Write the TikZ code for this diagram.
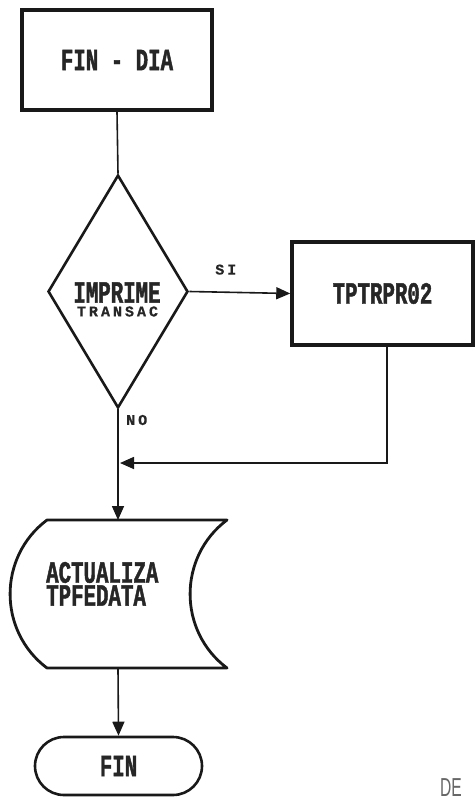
\documentclass[tikz,border=0pt]{standalone}
\usepackage{fontspec}
\usetikzlibrary{arrows.meta,shapes.geometric,shapes.misc}
\newfontfamily\dotbig[FakeStretch=0.67,FakeBold=1.4]{Liberation Mono}
\newfontfamily\dotsmall[LetterSpace=20,FakeBold=0.6]{Liberation Mono}
\newfontfamily\desans[FakeStretch=0.6]{Liberation Sans}
\newcommand{\bigtxt}{\dotbig\bfseries\fontsize{31}{24}\selectfont}
\newcommand{\smalltxt}{\dotsmall\bfseries\fontsize{15}{15}\selectfont}
\tikzset{
  ink/.style={draw=black!90},
  procbox/.style={ink, line width=3.5pt, rectangle, inner sep=0pt, font=\bigtxt, text=black!85},
  decbox/.style={ink, line width=2.6pt, diamond, inner sep=0pt, aspect=0.6},
  termbox/.style={ink, line width=2.6pt, rectangle, rounded corners=29pt, inner sep=0pt, font=\bigtxt, text=black!85},
  conn/.style={black!90, line width=1.6pt},
  arr/.style={conn, -{Triangle[length=14pt,width=12pt]}},
  biglbl/.style={font=\bigtxt, text=black!85, inner sep=0pt},
  smalllbl/.style={font=\smalltxt, text=black!85, inner sep=0pt},
}
\begin{document}
\begin{tikzpicture}[x=1pt,y=-1pt]
\useasboundingbox (0,0) rectangle (475,797);
% nodes
\node[procbox, minimum width=190pt, minimum height=100pt] (fd) at (117,60) {FIN - DIA};
\node[decbox, minimum width=140pt, minimum height=233pt] (q) at (118,291.5) {};
\node[biglbl] (qt1) at (117,292.5) {IMPRIME};
\node[smalllbl] (qt2) at (117.5,311.5) {TRANSAC};
\node[procbox, minimum width=181pt, minimum height=103pt] (tp) at (382.5,293.5) {TPTRPR02};
\node[termbox, minimum width=167pt, minimum height=58pt] (fin) at (118.5,766) {FIN};
% stored data shape
\coordinate (acttop) at (118,520);
\coordinate (actbot) at (118,668);
\draw[ink, line width=2.8pt, line join=round]
  (47,520) -- (227,520)
  .. controls (177.8,556.9) and (177.8,631.1) .. (227,668)
  -- (47,668)
  .. controls (-2.2,631.1) and (-2.2,556.9) .. cycle;
\node[biglbl, anchor=west] (act1) at (46,572.5) {ACTUALIZA};
\node[biglbl, anchor=west] (act2) at (46,595.5) {TPFEDATA};
% connectors
\coordinate (ret) at (387,463);
\coordinate (join) at (120,463);
\draw[conn] (fd.south) -- (q.north);
\draw[arr] (q.east) -- node[smalllbl, above=17pt, xshift=-14pt] (si) {SI} (tp.west);
\draw[arr] (tp.south -| ret) -- (ret) -- (join);
\draw[arr] (q.south) -- (acttop);
\node[smalllbl, anchor=west] (no) at (126,420) {NO};
\draw[arr] (actbot) -- (fin.north);
\node[anchor=base west, inner sep=0pt, font=\desans\fontsize{26}{26}\selectfont, text=black!60] (de) at (440,796) {DE};
\end{tikzpicture}
\end{document}
